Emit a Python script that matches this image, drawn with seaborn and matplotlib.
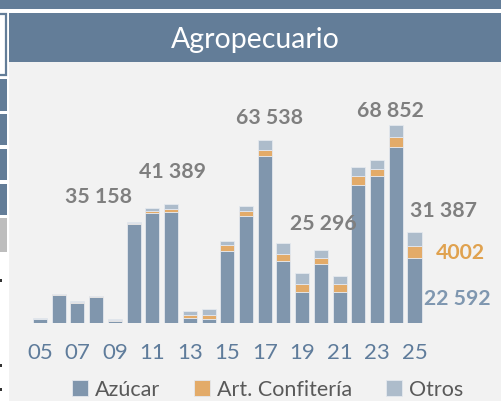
import matplotlib
matplotlib.use("Agg")
import matplotlib.pyplot as plt
from matplotlib.patches import Rectangle
import seaborn as sns
import pandas as pd
import numpy as np

# ---- data ----
years = ["05", "06", "07", "08", "09", "10", "11", "12", "13", "14", "15",
         "16", "17", "18", "19", "20", "21", "22", "23", "24", "25"]
azucar = [1200, 9600, 6900, 8780, 520, 34300, 38160, 38600, 1570, 1280, 25020,
          37100, 57960, 21540, 10740, 20540, 10520, 48030, 51060, 61300, 22592]
confiteria = [100, 300, 350, 400, 400, 250, 700, 1050, 1000, 1280, 1860,
              1630, 2090, 2440, 2670, 2090, 2790, 3140, 2440, 3370, 4002]
otros = [250, 150, 100, 150, 150, 608, 1045, 1739, 1390, 2090, 1630,
         1860, 3488, 3720, 3950, 2666, 2900, 3020, 3140, 4182, 4793]
tick_labels = ["05", "07", "09", "11", "13", "15", "17", "19", "21", "23", "25"]
series_names = ["Azúcar", "Art. Confitería", "Otros"]
title = "Agropecuario"

# annotated totals: (bar index, text, x offset, y offset, color)
annotations = [
    (5, "35 158", -1.9, 8580, "#7f7f7f"),
    (7, "41 389", 0.1, 11160, "#7f7f7f"),
    (12, "63 538", 0.28, 7730, "#7f7f7f"),
    (15, "25 296", 0.11, 9030, "#7f7f7f"),
    (19, "68 852", -0.3, 4860, "#7f7f7f"),
    (20, "31 387", 1.57, 7470, "#7f7f7f"),
]

C_AZ = "#8096ad"
C_CONF = "#e3ab69"
C_OTR = "#adbccb"
BAND = "#637d98"
BG = "#f2f2f2"

sns.set_theme(style="white")
plt.rcParams["font.family"] = ["Lato", "DejaVu Sans"]

W, H = 502, 401
fig = plt.figure(figsize=(W / 100, H / 100), dpi=100)
fig.patch.set_facecolor("white")

def fx(px):
    return px / W

def fy(py):
    return 1 - py / H

def add_rect(x0, y_top, w, h, **kw):
    r = Rectangle((fx(x0), fy(y_top + h)), w / W, h / H, transform=fig.transFigure,
                  zorder=-5, **kw)
    fig.patches.append(r)

# background panels
add_rect(9, 62, 493, 339, facecolor=BG, edgecolor="none")
add_rect(9, 13, 493, 49, facecolor=BAND, edgecolor="none")
add_rect(0, 0, 502, 9, facecolor=BAND, edgecolor="none")
# neighbouring panel fragments on the left edge
add_rect(-2, 13.5, 8, 61, facecolor="white", edgecolor=BAND, linewidth=1.6)
for y0, y1, c in [(79, 111, BAND), (114, 145, BAND), (149, 180, BAND),
                  (184, 215, BAND), (218, 252, "#bdbdbd")]:
    add_rect(0, y0, 6.5, y1 - y0, facecolor=c, edgecolor="none")
for yd in [280, 365, 389]:
    add_rect(0, yd - 1.5, 2, 3, facecolor="#333333", edgecolor="none")

fig.text(fx(255), fy(48), title, color="white", fontsize=20.5, ha="center",
         va="baseline")

ax = fig.add_axes([fx(9), fy(322.5), fx(493), (322.5 - 62) / H])
ax.set_facecolor("none")
ax.set_zorder(5)

df = pd.DataFrame({"year": years, "az": azucar, "conf": confiteria, "otr": otros})
base2 = np.array(azucar)
base3 = base2 + np.array(confiteria)
ekw = dict(edgecolor="#e4e8ee", linewidth=0.6, saturation=1, width=0.75)
sns.barplot(data=df, x="year", y="az", color=C_AZ, label=series_names[0], ax=ax, **ekw)
sns.barplot(data=df, x="year", y="conf", color=C_CONF, label=series_names[1], ax=ax,
            bottom=base2, **ekw)
sns.barplot(data=df, x="year", y="otr", color=C_OTR, label=series_names[2], ax=ax,
            bottom=base3, **ekw)

totals = base3 + np.array(otros)
for idx, txt, dx, dy, col in annotations:
    ax.text(idx + dx, totals[idx] + dy, txt, ha="center", va="center",
            fontsize=15.3, fontweight="bold", color=col)
# component labels for last bar
last = len(years) - 1
ax.text(last + 2.43, 24330, f"{confiteria[last]}", ha="center", va="center",
        fontsize=15.3, fontweight="bold", color="#e0a24f")
ax.text(last + 2.27, 8190, f"{azucar[last]:,}".replace(",", " "), ha="center",
        va="center", fontsize=15.3, fontweight="bold", color="#7f97b0")

step = 18.725
ax.set_xlim(-(40 - 9) / step, last + (502 - 414.5) / step)
ax.set_ylim(0, (322.5 - 62) * 348.5)
ax.set_xticks(range(0, len(years), 2))
ax.set_xticklabels(tick_labels)
ax.tick_params(axis="x", length=0, pad=15, labelsize=16, labelcolor="#5f7c9b")
ax.set_yticks([])
ax.set_xlabel("")
ax.set_ylabel("")
for s in ax.spines.values():
    s.set_visible(False)

handles, labels = ax.get_legend_handles_labels()
if ax.get_legend():
    ax.get_legend().remove()
leg = fig.legend(handles, labels, loc="center", bbox_to_anchor=(fx(267.5), fy(389.5)),
                 ncol=3, frameon=False, fontsize=15.5, handlelength=0.75,
                 handleheight=0.75, handletextpad=0.3, columnspacing=1.6,
                 labelcolor="#595959")

fig.savefig("out.png", dpi=100, facecolor=fig.get_facecolor())
